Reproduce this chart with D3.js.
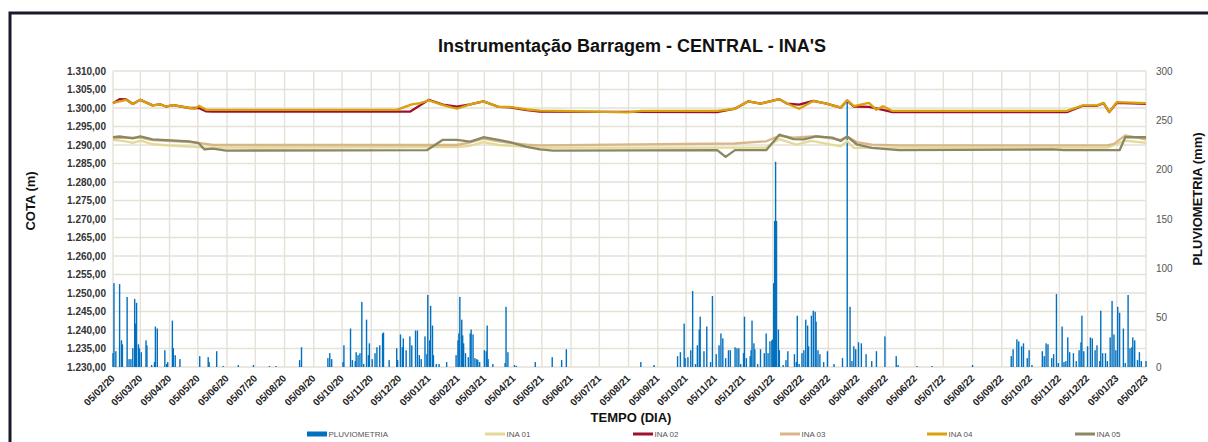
<!DOCTYPE html>
<html>
<head>
<meta charset="utf-8">
<script src="https://cdn.jsdelivr.net/npm/d3@7"></script>
<style>
body{margin:0;background:#fff;}
svg{display:block;font-family:"Liberation Sans",Arial,sans-serif;}
</style>
</head>
<body>
<svg id="chart" width="1208" height="442"></svg>
<script>
var titulo = "Instrumentação Barragem - CENTRAL - INA'S";

// eixos
var cotaTicks = [1230,1235,1240,1245,1250,1255,1260,1265,1270,1275,1280,1285,1290,1295,1300,1305,1310];
var pluvioTicks = [0,50,100,150,200,250,300];
var dataTicks = ["05/02/20","05/03/20","05/04/20","05/05/20","05/06/20","05/07/20","05/08/20","05/09/20","05/10/20","05/11/20","05/12/20",
  "05/01/21","05/02/21","05/03/21","05/04/21","05/05/21","05/06/21","05/07/21","05/08/21","05/09/21","05/10/21","05/11/21","05/12/21",
  "05/01/22","05/02/22","05/03/22","05/04/22","05/05/22","05/06/22","05/07/22","05/08/22","05/09/22","05/10/22","05/11/22","05/12/22",
  "05/01/23","05/02/23"];

var legenda = ["PLUVIOMETRIA","INA 01","INA 02","INA 03","INA 04","INA 05"];
var cores = {"PLUVIOMETRIA":"#0070C0","INA 01":"#E4DA98","INA 02":"#A0102E","INA 03":"#D9B68A","INA 04":"#D9A10C","INA 05":"#8A8762"};

// chuva diaria (mm)
var pluviometria = [
["2020-02-05",14],["2020-02-06",85],["2020-02-08",16],["2020-02-12",84],["2020-02-14",27],["2020-02-15",23],["2020-02-20",71],["2020-02-22",8],["2020-02-24",8],["2020-02-26",19],["2020-02-28",69],["2020-02-29",44],["2020-03-01",65],["2020-03-03",23],["2020-03-04",19],["2020-03-06",15],["2020-03-11",27],["2020-03-12",22],["2020-03-17",2],["2020-03-20",5],["2020-03-21",41],["2020-03-23",39],["2020-03-31",17],["2020-04-02",3],["2020-04-03",5],["2020-04-08",47],["2020-04-09",19],["2020-04-11",12],["2020-04-16",8],["2020-05-07",11],["2020-05-16",10],["2020-05-17",5],["2020-05-25",16],["2020-06-01",1],["2020-06-17",2],["2020-07-03",2],["2020-07-20",1],["2020-07-27",1],["2020-08-21",7],["2020-08-23",20],["2020-09-20",9],["2020-09-22",14],["2020-09-24",8],["2020-10-06",5],["2020-10-07",22],["2020-10-14",39],["2020-10-16",7],["2020-10-19",6],["2020-10-20",15],["2020-10-22",12],["2020-10-24",14],["2020-10-26",66],["2020-10-28",3],["2020-10-31",48],["2020-11-02",12],["2020-11-03",24],["2020-11-06",8],["2020-11-09",14],["2020-11-11",20],["2020-11-14",22],["2020-11-17",34],["2020-11-18",35],["2020-11-24",7],["2020-12-02",19],["2020-12-03",7],["2020-12-06",33],["2020-12-08",20],["2020-12-09",29],["2020-12-12",17],["2020-12-16",31],["2020-12-18",22],["2020-12-22",37],["2020-12-24",37],["2020-12-26",12],["2020-12-28",8],
["2021-01-01",31],["2021-01-03",13],["2021-01-04",73],["2021-01-06",27],["2021-01-07",62],["2021-01-09",42],["2021-01-10",12],["2021-01-13",3],["2021-01-16",3],["2021-01-24",5],["2021-02-03",12],["2021-02-05",27],["2021-02-06",34],["2021-02-07",71],["2021-02-09",48],["2021-02-10",32],["2021-02-11",24],["2021-02-13",14],["2021-02-16",10],["2021-02-18",34],["2021-02-19",38],["2021-02-21",33],["2021-02-23",9],["2021-02-25",8],["2021-02-26",7],["2021-02-28",5],["2021-03-05",17],["2021-03-07",16],["2021-03-08",42],["2021-03-09",8],["2021-03-14",3],["2021-03-27",4],["2021-03-28",61],["2021-03-30",15],["2021-04-06",2],["2021-04-08",1],["2021-04-28",5],["2021-05-16",10],["2021-05-26",7],["2021-05-31",18],["2021-08-18",5],["2021-09-01",2],["2021-09-26",11],["2021-09-29",15],["2021-10-03",44],["2021-10-04",9],["2021-10-07",10],["2021-10-10",17],["2021-10-12",77],["2021-10-15",3],["2021-10-17",22],["2021-10-19",38],["2021-10-20",51],["2021-10-24",16],["2021-10-27",41],["2021-10-31",5],["2021-11-02",72],["2021-11-06",13],["2021-11-09",22],["2021-11-11",34],["2021-11-13",29],["2021-11-16",9],["2021-11-19",17],["2021-11-21",17],["2021-11-26",20],["2021-11-28",19],["2021-11-30",19],["2021-12-02",3],["2021-12-05",14],["2021-12-06",51],["2021-12-08",9],["2021-12-12",11],["2021-12-13",17],["2021-12-14",47],["2021-12-16",24],["2021-12-17",18],["2021-12-20",3],["2021-12-23",18],["2021-12-27",14],["2021-12-29",34],["2021-12-31",14],
["2022-01-02",26],["2022-01-04",27],["2022-01-05",28],["2022-01-06",85],["2022-01-07",148],["2022-01-08",208],["2022-01-09",148],["2022-01-11",38],["2022-01-12",17],["2022-01-16",2],["2022-01-19",7],["2022-01-21",16],["2022-01-28",13],["2022-01-30",5],["2022-01-31",52],["2022-02-02",3],["2022-02-05",14],["2022-02-07",17],["2022-02-09",48],["2022-02-11",42],["2022-02-12",21],["2022-02-15",52],["2022-02-17",57],["2022-02-19",56],["2022-02-20",46],["2022-02-22",17],["2022-02-24",13],["2022-02-28",5],["2022-03-04",16],["2022-03-11",3],["2022-03-20",9],["2022-03-25",270],["2022-03-28",61],["2022-03-30",6],["2022-04-01",21],["2022-04-03",18],["2022-04-06",25],["2022-04-09",24],["2022-04-14",13],["2022-04-20",6],["2022-04-25",16],["2022-05-04",31],["2022-05-16",11],["2022-05-18",2],["2022-06-07",1],["2022-06-23",1],["2022-08-05",2],["2022-09-15",11],["2022-09-17",18],["2022-09-21",28],["2022-09-23",26],["2022-09-26",21],["2022-09-28",24],["2022-10-02",9],["2022-10-04",17],["2022-10-07",2],["2022-10-18",16],["2022-10-20",11],["2022-10-22",24],["2022-10-24",23],["2022-10-28",9],["2022-10-30",13],["2022-11-02",74],["2022-11-04",4],["2022-11-08",41],["2022-11-10",5],["2022-11-12",6],["2022-11-14",30],["2022-11-16",15],["2022-11-20",14],["2022-11-23",6],["2022-11-26",17],["2022-11-28",25],["2022-11-29",52],["2022-12-01",16],["2022-12-05",21],["2022-12-08",30],["2022-12-10",29],["2022-12-13",17],["2022-12-15",22],["2022-12-18",6],["2022-12-19",57],["2022-12-21",14],["2022-12-24",14],["2022-12-26",6],["2022-12-29",30],["2022-12-31",67],
["2023-01-02",33],["2023-01-04",17],["2023-01-06",61],["2023-01-08",55],["2023-01-12",39],["2023-01-14",4],["2023-01-17",73],["2023-01-19",19],["2023-01-21",20],["2023-01-22",30],["2023-01-24",27],["2023-01-27",7],["2023-01-29",15],["2023-01-31",6],["2023-02-05",6]
];

// cotas dos INAs (m)
var ina01 = [["2020-02-05",1291.4],["2020-02-19",1291.0],["2020-02-26",1290.6],["2020-03-05",1291.2],["2020-03-18",1290.2],["2020-04-09",1289.8],["2020-05-02",1289.5],["2020-05-14",1289.3],["2021-01-20",1289.4],["2021-02-04",1289.4],["2021-02-18",1289.8],["2021-03-04",1290.8],["2021-03-20",1290.0],["2021-04-19",1289.5],["2021-05-03",1289.3],["2021-12-29",1289.3],["2022-01-12",1291.6],["2022-01-30",1290.1],["2022-02-15",1291.1],["2022-03-18",1289.6],["2022-03-25",1291.1],["2022-04-01",1289.2],["2022-04-20",1289.3],["2022-12-26",1289.3],["2023-01-14",1291.2],["2023-02-05",1290.6]];
var ina02 = [["2020-02-05",1301.3],["2020-02-12",1302.4],["2020-02-19",1302.3],["2020-02-26",1301.1],["2020-03-05",1302.2],["2020-03-18",1300.7],["2020-03-26",1301.0],["2020-04-01",1300.4],["2020-04-09",1300.8],["2020-04-26",1300.0],["2020-05-06",1300.0],["2020-05-14",1299.1],["2020-05-21",1299.0],["2020-12-16",1299.0],["2021-01-05",1302.2],["2021-01-20",1300.9],["2021-02-04",1300.4],["2021-02-18",1301.0],["2021-03-04",1301.8],["2021-03-20",1300.3],["2021-04-01",1300.2],["2021-04-19",1299.4],["2021-05-03",1299.0],["2021-11-07",1298.9],["2021-11-26",1299.8],["2021-12-10",1301.8],["2021-12-23",1301.2],["2022-01-12",1302.4],["2022-01-20",1301.2],["2022-02-02",1300.9],["2022-02-17",1301.9],["2022-03-03",1301.2],["2022-03-18",1300.1],["2022-03-25",1302.0],["2022-04-01",1300.4],["2022-04-17",1300.3],["2022-05-02",1299.5],["2022-05-12",1298.9],["2022-11-13",1298.9],["2022-11-30",1300.6],["2022-12-15",1300.6],["2022-12-22",1301.3],["2022-12-28",1298.9],["2023-01-05",1301.4],["2023-02-05",1301.1]];
var ina03 = [["2020-02-05",1291.8],["2020-02-19",1292.0],["2020-03-05",1292.0],["2020-03-18",1291.3],["2020-04-26",1290.8],["2020-05-06",1290.6],["2020-05-21",1290.0],["2021-02-04",1290.0],["2021-02-18",1290.7],["2021-03-04",1291.7],["2021-03-20",1291.0],["2021-04-01",1290.6],["2021-04-19",1290.1],["2021-05-03",1289.9],["2021-11-26",1290.4],["2021-12-29",1291.0],["2022-01-12",1292.5],["2022-01-27",1292.0],["2022-02-20",1292.4],["2022-03-18",1291.4],["2022-03-25",1292.2],["2022-04-04",1290.8],["2022-04-20",1290.1],["2022-05-19",1289.9],["2022-12-26",1289.9],["2023-01-02",1290.3],["2023-01-14",1292.6],["2023-02-05",1291.5]];
var ina04 = [["2020-02-05",1301.4],["2020-02-19",1302.2],["2020-02-26",1301.1],["2020-03-05",1302.2],["2020-03-18",1300.7],["2020-03-26",1301.0],["2020-04-01",1300.4],["2020-04-09",1300.8],["2020-04-26",1300.0],["2020-05-02",1299.8],["2020-05-06",1300.6],["2020-05-14",1299.5],["2020-12-02",1299.5],["2020-12-18",1301.0],["2020-12-27",1301.3],["2021-01-05",1302.1],["2021-01-20",1300.8],["2021-02-04",1299.8],["2021-02-18",1301.0],["2021-03-04",1301.8],["2021-03-20",1300.3],["2021-04-01",1300.3],["2021-04-19",1299.6],["2021-05-03",1299.3],["2021-05-24",1299.2],["2021-08-04",1298.8],["2021-08-19",1299.2],["2021-11-07",1299.2],["2021-11-26",1299.8],["2021-12-10",1301.8],["2021-12-23",1301.2],["2022-01-12",1302.4],["2022-01-20",1301.2],["2022-02-02",1299.8],["2022-02-17",1301.9],["2022-03-03",1301.2],["2022-03-18",1300.1],["2022-03-25",1302.1],["2022-04-01",1300.5],["2022-04-17",1301.4],["2022-04-25",1299.5],["2022-05-02",1300.5],["2022-05-12",1299.2],["2022-11-13",1299.2],["2022-11-30",1300.7],["2022-12-15",1300.7],["2022-12-22",1301.4],["2022-12-28",1298.9],["2023-01-05",1301.6],["2023-02-05",1301.3]];
var ina05 = [["2020-02-05",1292.1],["2020-02-12",1292.3],["2020-02-26",1291.8],["2020-03-05",1292.3],["2020-03-18",1291.5],["2020-04-26",1291.0],["2020-05-06",1290.5],["2020-05-12",1288.8],["2020-05-21",1289.0],["2020-06-04",1288.5],["2021-01-03",1288.6],["2021-01-20",1291.4],["2021-02-04",1291.4],["2021-02-18",1290.9],["2021-03-04",1292.1],["2021-03-20",1291.4],["2021-04-01",1290.8],["2021-04-19",1289.5],["2021-05-03",1288.8],["2021-05-17",1288.5],["2021-11-07",1288.6],["2021-11-16",1286.8],["2021-11-26",1288.6],["2021-12-29",1288.6],["2022-01-12",1292.8],["2022-01-27",1291.6],["2022-02-07",1291.5],["2022-02-20",1292.3],["2022-03-09",1292.0],["2022-03-18",1291.1],["2022-03-25",1292.3],["2022-04-04",1290.2],["2022-04-20",1289.2],["2022-05-19",1288.6],["2022-10-29",1288.8],["2022-11-10",1288.6],["2023-01-08",1288.6],["2023-01-14",1292.1],["2023-02-05",1292.1]];

var svg = d3.select("#chart");
var parseDia = d3.utcParse("%Y-%m-%d");
var parseTick = d3.utcParse("%d/%m/%y");
var fmtCota = d3.formatLocale({decimal:",", thousands:".", grouping:[3], currency:["",""]}).format(",.2f");

// area do grafico (window.top e reservado, por isso os nomes)
var plotL = 113, plotR = 1146, plotT = 71, plotB = 367;

var x = d3.scaleUtc().domain([parseTick("05/02/20"), parseTick("05/02/23")]).range([plotL, plotR]);
var yCota = d3.scaleLinear().domain([1230, 1310]).range([plotB, plotT]);
var yPluvio = d3.scaleLinear().domain([0, 300]).range([plotB, plotT]);

// moldura
svg.append("rect").attr("x", 10).attr("y", 13).attr("width", 1220).attr("height", 460)
   .attr("fill", "none").attr("stroke", "#191929").attr("stroke-width", 3);

svg.append("text").attr("x", 632).attr("y", 52).attr("text-anchor", "middle")
   .attr("font-size", 18).attr("font-weight", "bold").attr("fill", "#111").text(titulo);

// grade
var grid = svg.append("g");
grid.selectAll(".gh").data(cotaTicks).enter().append("line")
    .attr("x1", plotL).attr("x2", plotR)
    .attr("y1", function(d){ return yCota(d); }).attr("y2", function(d){ return yCota(d); })
    .attr("stroke", "#E4E1D7").attr("stroke-width", 1.4);
grid.selectAll(".gv").data(dataTicks).enter().append("line")
    .attr("x1", function(d){ return x(parseTick(d)); }).attr("x2", function(d){ return x(parseTick(d)); })
    .attr("y1", plotT).attr("y2", plotB)
    .attr("stroke", "#E4E1D7").attr("stroke-width", 1.4);

// eixo esquerdo
var axL = svg.append("g").attr("transform", "translate(" + plotL + ",0)")
    .call(d3.axisLeft(yCota).tickValues(cotaTicks).tickFormat(fmtCota).tickSize(0).tickPadding(7));
axL.select(".domain").remove();
axL.selectAll("text").attr("font-size", 10).attr("font-weight", "bold").attr("fill", "#333").attr("font-family", null);

// eixo direito
var axR = svg.append("g").attr("transform", "translate(" + plotR + ",0)")
    .call(d3.axisRight(yPluvio).tickValues(pluvioTicks).tickSize(0).tickPadding(10));
axR.select(".domain").remove();
axR.selectAll("text").attr("font-size", 10).attr("fill", "#555").attr("font-family", null);

// eixo x
var axB = svg.append("g").attr("transform", "translate(0," + plotB + ")")
    .call(d3.axisBottom(x).tickValues(dataTicks.map(parseTick)).tickFormat(d3.utcFormat("%d/%m/%y")).tickSize(0));
axB.select(".domain").remove();
axB.selectAll("text").attr("font-size", 10).attr("font-weight", "bold").attr("fill", "#222").attr("font-family", null)
    .attr("text-anchor", "end").attr("dy", null).attr("y", 0).attr("x", 0)
    .attr("transform", "translate(2,12) rotate(-45)");

// titulos dos eixos
svg.append("text").attr("transform", "translate(35,201) rotate(-90)").attr("text-anchor", "middle")
   .attr("font-size", 13).attr("font-weight", "bold").attr("fill", "#111").text("COTA (m)");
svg.append("text").attr("transform", "translate(1202,199) rotate(-90)").attr("text-anchor", "middle")
   .attr("font-size", 13).attr("font-weight", "bold").attr("fill", "#111").text("PLUVIOMETRIA (mm)");
svg.append("text").attr("x", 631).attr("y", 422).attr("text-anchor", "middle")
   .attr("font-size", 13).attr("font-weight", "bold").attr("fill", "#111").text("TEMPO (DIA)");

// barras de chuva
svg.append("g").selectAll("rect").data(pluviometria).enter().append("rect")
    .attr("x", function(d){ return x(parseDia(d[0])) - 0.7; })
    .attr("width", 1.4)
    .attr("y", function(d){ return yPluvio(d[1]); })
    .attr("height", function(d){ return plotB - yPluvio(d[1]); })
    .attr("fill", cores["PLUVIOMETRIA"]);

// linhas
var linha = d3.line().x(function(d){ return x(parseDia(d[0])); }).y(function(d){ return yCota(d[1]); });
var inas = {"INA 01": ina01, "INA 02": ina02, "INA 03": ina03, "INA 04": ina04, "INA 05": ina05};
for(var nome in inas){
    svg.append("path").attr("d", linha(inas[nome]))
       .attr("fill", "none").attr("stroke", cores[nome]).attr("stroke-width", 2.3)
       .attr("stroke-linejoin", "round");
}

// legenda
var legX = [307, 485, 633, 780, 927, 1075];
var leg = svg.append("g").selectAll("g").data(legenda).enter().append("g")
    .attr("transform", function(d, i){ return "translate(" + legX[i] + ",434)"; });
leg.append("rect").attr("x", 0).attr("width", 20)
   .attr("y", function(d){ return d == "PLUVIOMETRIA" ? -2.5 : -1.5; })
   .attr("height", function(d){ return d == "PLUVIOMETRIA" ? 5 : 3; })
   .attr("fill", function(d){ return cores[d]; });
leg.append("text").attr("x", 21.5).attr("y", 3)
   .attr("font-size", 8).attr("fill", "#555").attr("font-family", "'Liberation Sans Narrow','Liberation Sans',Arial")
   .text(function(d){ return d; });
</script>
</body>
</html>
